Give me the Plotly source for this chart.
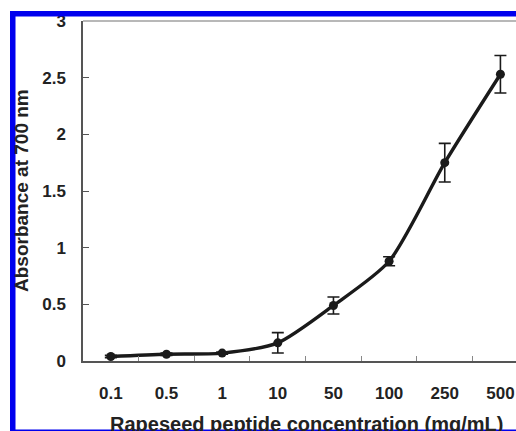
import plotly.graph_objects as go

categories = ["0.1", "0.5", "1", "10", "50", "100", "250", "500"]
absorbance = [0.04, 0.06, 0.07, 0.16, 0.49, 0.88, 1.75, 2.53]
errors = [0.01, 0.01, 0.01, 0.09, 0.075, 0.04, 0.17, 0.165]
y_ticks = [0, 0.5, 1, 1.5, 2, 2.5, 3]
y_tick_text = ["0", "0.5", "1", "1.5", "2", "2.5", "3"]

W, H = 516, 431
L, T, B = 83, 21, 70
PW, PH = W - L, H - T - B

def px(x):
    return (x - L) / PW

def py(y):
    return (H - B - y) / PH

FONT = "Liberation Sans, Arial, sans-serif"

fig = go.Figure()
fig.add_trace(go.Scatter(
    x=categories, y=absorbance,
    mode="lines+markers",
    line=dict(color="#1a1a1a", width=3.4, shape="spline", smoothing=0.7),
    marker=dict(color="#1a1a1a", size=9),
    error_y=dict(type="data", array=errors, visible=True, color="#1a1a1a",
                 thickness=1.6, width=6),
    showlegend=False,
))

fig.update_layout(
    width=W, height=H,
    margin=dict(l=L, r=0, t=T, b=B, pad=0),
    paper_bgcolor="white", plot_bgcolor="white",
    xaxis=dict(
        type="category", range=[-0.5, 7.28],
        showline=True, linecolor="#555", linewidth=1.5,
        ticks="inside", tickson="boundaries", ticklen=5, tickcolor="#888", tickwidth=1,
        showgrid=False, zeroline=False,
        tickfont=dict(family=FONT, size=17, color="#222", weight="bold"),
        ticklabelstandoff=16,
    ),
    yaxis=dict(
        range=[0, 3], tickvals=y_ticks, ticktext=y_tick_text,
        showline=True, linecolor="#555", linewidth=1.5,
        ticks="inside", ticklen=6, tickcolor="#555", tickwidth=1,
        showgrid=False, zeroline=False,
        tickfont=dict(family=FONT, size=17, color="#222", weight="bold"),
        ticklabelstandoff=12,
    ),
    shapes=[
        dict(type="line", xref="paper", yref="paper", x0=0, x1=1, y0=1, y1=1,
             line=dict(color="#a0a0a0", width=1.5)),
        dict(type="rect", xref="paper", yref="paper", x0=px(10), x1=px(15.5), y0=py(431), y1=py(11),
             fillcolor="#0000ee", line=dict(width=0), layer="above"),
        dict(type="rect", xref="paper", yref="paper", x0=px(10), x1=px(516), y0=py(16.5), y1=py(11),
             fillcolor="#0000ee", line=dict(width=0), layer="above"),
        dict(type="rect", xref="paper", yref="paper", x0=px(10), x1=px(516), y0=py(431), y1=py(429.5),
             fillcolor="#0000ee", line=dict(width=0), layer="above"),
    ],
    annotations=[
        dict(text="Absorbance at 700 nm", xref="paper", yref="paper",
             x=px(21), y=py(191), xanchor="center", yanchor="middle", textangle=-90,
             showarrow=False, font=dict(family=FONT, size=19, color="#222", weight="bold")),
        dict(text="Rapeseed peptide concentration (mg/mL)", xref="paper", yref="paper",
             x=px(306), y=py(411), xanchor="center", yanchor="top",
             showarrow=False, font=dict(family=FONT, size=20, color="#222", weight="bold")),
    ],
)

fig.write_html(
    "out.html",
    config={"displayModeBar": False},
    post_script="document.body.style.margin='0';document.body.style.overflow='hidden';",
)
